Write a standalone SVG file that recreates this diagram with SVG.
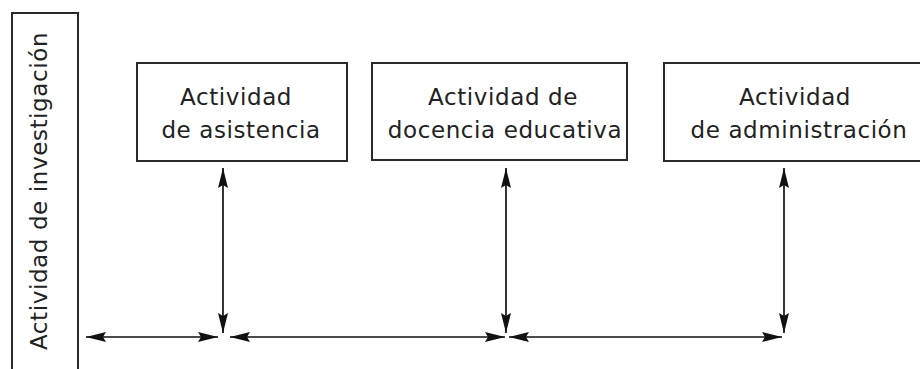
<svg xmlns="http://www.w3.org/2000/svg" width="920" height="369" viewBox="0 0 920 369">
<style>
.box{fill:#fff;stroke:#2a2a2a;stroke-width:2}
.t{font-family:"DejaVu Sans","Liberation Sans",sans-serif;font-size:23px;fill:#222;letter-spacing:0.6px;text-anchor:middle}
.c{stroke:#111;stroke-width:1.7;fill:none;marker-start:url(#ah);marker-end:url(#ah)}
</style>
<defs>
<marker id="ah" viewBox="0 0 20 10" markerWidth="20" markerHeight="10" refX="20" refY="5" orient="auto-start-reverse" markerUnits="userSpaceOnUse">
<path d="M0,0 L20,5 L0,10 L3,5 z" fill="#111"/>
</marker>
</defs>
<rect width="920" height="369" fill="#fff"/>
<g id="investigacion">
<path class="box" d="M12,380 V13 H78 V380"/>
<text class="t" transform="translate(47,191) rotate(-90)" x="0" y="0">Actividad de investigación</text>
</g>
<g id="asistencia">
<rect class="box" x="137" y="63" width="210" height="98"/>
<text class="t" x="236" y="105">Actividad</text>
<text class="t" x="241" y="138">de asistencia</text>
</g>
<g id="docencia">
<rect class="box" x="372" y="63" width="255" height="97"/>
<text class="t" x="503" y="105">Actividad de</text>
<text class="t" x="505" y="138">docencia educativa</text>
</g>
<g id="administracion">
<rect class="box" x="664" y="63" width="270" height="98"/>
<text class="t" x="795" y="105">Actividad</text>
<text class="t" x="799" y="138">de administración</text>
</g>
<g id="connectors">
<line class="c" x1="223" y1="168" x2="223" y2="333"/>
<line class="c" x1="506" y1="168" x2="506" y2="333"/>
<line class="c" x1="784" y1="168" x2="784" y2="333"/>
<line class="c" x1="86" y1="337" x2="218" y2="337"/>
<line class="c" x1="230" y1="337" x2="505" y2="337"/>
<line class="c" x1="509" y1="337" x2="782" y2="337"/>
</g>
</svg>
